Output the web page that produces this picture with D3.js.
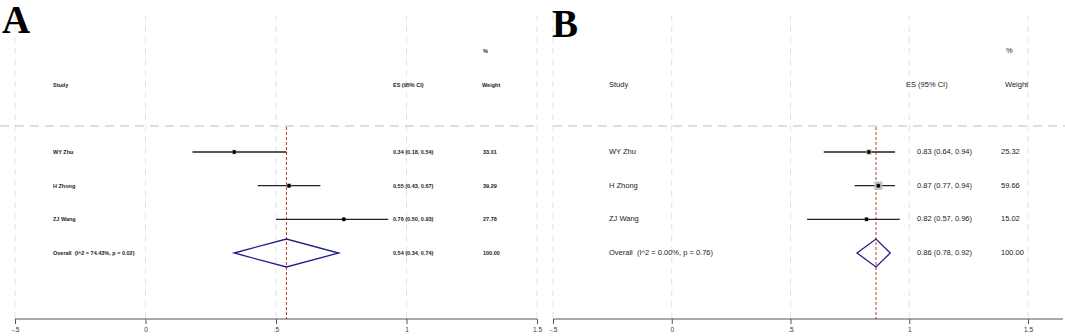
<!DOCTYPE html>
<html>
<head>
<meta charset="utf-8">
<script src="https://cdn.jsdelivr.net/npm/d3@7"></script>
<style>
  body { margin: 0; background: #fff; }
  svg { display: block; }
</style>
</head>
<body>
<div id="chart-area"></div>
<script>
var studies = ["WY Zhu", "H Zhong", "ZJ Wang"];
var rows = ["WY Zhu", "H Zhong", "ZJ Wang", "Overall"];
var tickValues = [-0.5, 0, 0.5, 1, 1.5];
var tickLabels = ["-.5", "0", ".5", "1", "1.5"];

// panel A
var esA = [0.34, 0.55, 0.76];
var loA = [0.18, 0.43, 0.50];
var hiA = [0.54, 0.67, 0.93];
var weightA = [33.01, 39.29, 27.78];
var overallA = [0.54, 0.34, 0.74];
var overallLabelA = "Overall  (I^2 = 74.43%, p = 0.02)";

// panel B
var esB = [0.83, 0.87, 0.82];
var loB = [0.64, 0.77, 0.57];
var hiB = [0.94, 0.94, 0.96];
var weightB = [25.32, 59.66, 15.02];
var overallB = [0.86, 0.78, 0.92];
var overallLabelB = "Overall  (I^2 = 0.00%, p = 0.76)";

var width = 1065, height = 336;

var svg = d3.select("#chart-area")
  .append("svg")
  .attr("width", width)
  .attr("height", height);

var fmt = d3.format(".2f");

function drawPanel(p) {
  var g = svg.append("g");

  var x = d3.scaleLinear()
    .domain([-0.5, 1.5])
    .range([p.x0, p.x1]);

  var y = d3.scalePoint()
    .domain(rows)
    .range([152, 253]);

  var axisY = 319;

  // vertical gridlines
  g.selectAll(".vgrid")
    .data(tickValues)
    .enter().append("line")
    .attr("x1", function(d){ return x(d); })
    .attr("x2", function(d){ return x(d); })
    .attr("y1", 15)
    .attr("y2", axisY)
    .attr("stroke", "#e2e2e2")
    .attr("stroke-width", 1)
    .attr("stroke-dasharray", "6,5");

  // header separator
  g.append("line")
    .attr("x1", p.sepX0)
    .attr("x2", p.sepX1)
    .attr("y1", 126)
    .attr("y2", 126)
    .attr("stroke", "#bdbdbd")
    .attr("stroke-width", 1)
    .attr("stroke-dasharray", "9,6");

  // headers
  g.append("text").attr("x", p.studyX).attr("y", 87).text("Study");
  g.append("text").attr("x", p.esX).attr("y", 87).text("ES (95% CI)");
  g.append("text").attr("x", p.wX).attr("y", 87).text("Weight");
  g.append("text").attr("x", p.wX + 1).attr("y", 53).text("%");

  var data = studies.map(function(s, i){
    return { study: s, es: p.es[i], lo: p.lo[i], hi: p.hi[i], w: p.w[i] };
  });

  // red overall line
  g.append("line")
    .attr("x1", x(p.overall[0]))
    .attr("x2", x(p.overall[0]))
    .attr("y1", 127)
    .attr("y2", axisY)
    .attr("stroke", "#c0392b")
    .attr("stroke-width", 1)
    .attr("stroke-dasharray", "3,2");

  // CI lines
  g.selectAll(".ci")
    .data(data)
    .enter().append("line")
    .attr("x1", function(d){ return x(d.lo); })
    .attr("x2", function(d){ return x(d.hi); })
    .attr("y1", function(d){ return y(d.study); })
    .attr("y2", function(d){ return y(d.study); })
    .attr("stroke", "#222")
    .attr("stroke-width", 1.4);

  // weight boxes
  g.selectAll(".box")
    .data(data)
    .enter().append("rect")
    .attr("x", function(d){ return x(d.es) - p.boxK * Math.sqrt(d.w) / 2; })
    .attr("y", function(d){ return y(d.study) - p.boxK * Math.sqrt(d.w) / 2; })
    .attr("width", function(d){ return p.boxK * Math.sqrt(d.w); })
    .attr("height", function(d){ return p.boxK * Math.sqrt(d.w); })
    .attr("fill", "#bdbdbd");

  // point estimates
  g.selectAll(".pt")
    .data(data)
    .enter().append("circle")
    .attr("cx", function(d){ return x(d.es); })
    .attr("cy", function(d){ return y(d.study); })
    .attr("r", 2)
    .attr("fill", "#000");

  // diamond
  var yo = y("Overall");
  var dh = 14;
  g.append("path")
    .attr("d", "M" + x(p.overall[1]) + "," + yo +
      "L" + x(p.overall[0]) + "," + (yo - dh) +
      "L" + x(p.overall[2]) + "," + yo +
      "L" + x(p.overall[0]) + "," + (yo + dh) + "Z")
    .attr("fill", "none")
    .attr("stroke", "#1f1f8a")
    .attr("stroke-width", 1.3);

  // row labels
  g.selectAll(".lab")
    .data(data)
    .enter().append("text")
    .attr("x", p.studyX)
    .attr("y", function(d){ return y(d.study) + 2; })
    .text(function(d){ return d.study; });

  g.selectAll(".esv")
    .data(data)
    .enter().append("text")
    .attr("x", p.esValX)
    .attr("y", function(d){ return y(d.study) + 2; })
    .text(function(d){ return fmt(d.es) + " (" + fmt(d.lo) + ", " + fmt(d.hi) + ")"; });

  g.selectAll(".wv")
    .data(data)
    .enter().append("text")
    .attr("x", p.wValX)
    .attr("y", function(d){ return y(d.study) + 2; })
    .text(function(d){ return fmt(d.w); });

  g.append("text").attr("x", p.studyX).attr("y", yo + 2)
    .attr("xml:space", "preserve").text(p.overallLabel);
  g.append("text").attr("x", p.esValX).attr("y", yo + 2)
    .text(fmt(p.overall[0]) + " (" + fmt(p.overall[1]) + ", " + fmt(p.overall[2]) + ")");
  g.append("text").attr("x", p.wValX).attr("y", yo + 2).text("100.00");

  g.selectAll("text")
    .attr("font-family", "Arial, 'Liberation Sans', sans-serif")
    .attr("font-size", p.font)
    .attr("font-weight", p.bold ? "bold" : "normal")
    .attr("fill", "#222");

  // axis
  var xAxis = d3.axisBottom(x)
    .tickValues(tickValues)
    .tickFormat(function(d, i){ return tickLabels[i]; })
    .tickSizeOuter(0)
    .tickSize(5);

  var ax = g.append("g")
    .attr("transform", "translate(0," + axisY + ")")
    .call(xAxis);
  ax.select(".domain").attr("stroke", "#555").attr("d", "M" + p.x0 + ",0H" + p.axisEnd);
  ax.selectAll(".tick line").attr("stroke", "#555");
  ax.selectAll(".tick text")
    .attr("font-family", "Arial, 'Liberation Sans', sans-serif")
    .attr("font-size", 6.5)
    .attr("fill", "#333")
    .attr("dy", "0.75em");

  // panel letter
  svg.append("text")
    .attr("x", p.letterX)
    .attr("y", p.letterY)
    .attr("font-family", "'Liberation Serif', 'Times New Roman', serif")
    .attr("font-weight", "bold")
    .attr("font-size", 39)
    .attr("fill", "#000")
    .text(p.letter);
}

drawPanel({
  letter: "A", letterX: 2, letterY: 33,
  x0: 15, x1: 537, axisEnd: 537,
  sepX0: 0, sepX1: 535,
  studyX: 53, esX: 393, wX: 482, esValX: 393, wValX: 483,
  font: 5.5, bold: true, boxK: 0.75,
  es: esA, lo: loA, hi: hiA, w: weightA,
  overall: overallA, overallLabel: overallLabelA
});

drawPanel({
  letter: "B", letterX: 552, letterY: 37,
  x0: 553, x1: 1028, axisEnd: 1063,
  sepX0: 553, sepX1: 1065,
  studyX: 609, esX: 906, wX: 1005, esValX: 917, wValX: 1001,
  font: 7.5, bold: false, boxK: 1.05,
  es: esB, lo: loB, hi: hiB, w: weightB,
  overall: overallB, overallLabel: overallLabelB
});
</script>
</body>
</html>
